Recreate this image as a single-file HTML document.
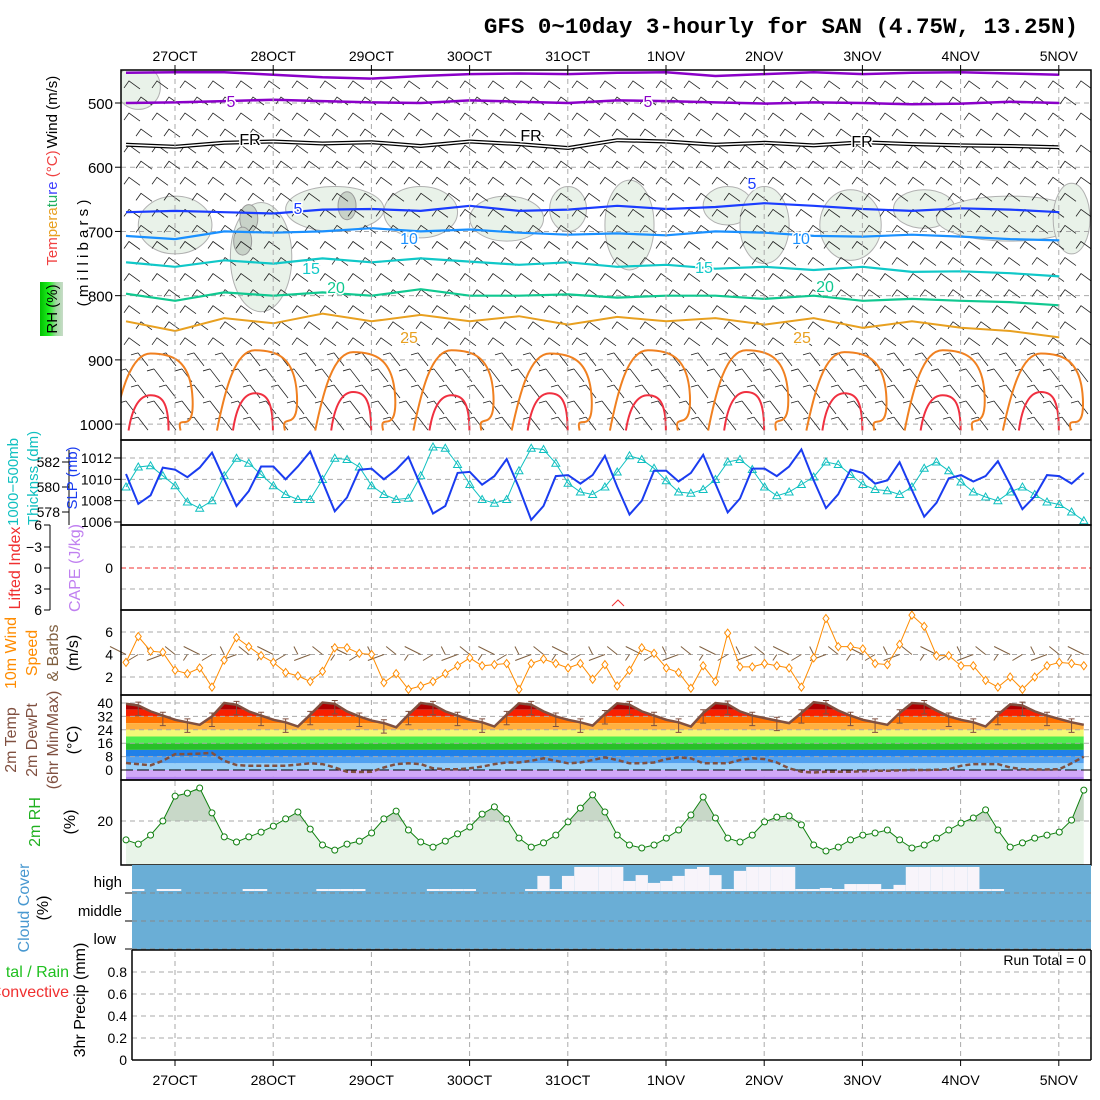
<!DOCTYPE html>
<html><head><meta charset="utf-8"><style>
body{margin:0;background:#fff}
svg{display:block}
text{font-family:"Liberation Sans",sans-serif}
</style></head><body>
<svg id="c" width="1100" height="1100" viewBox="0 0 1100 1100" xmlns="http://www.w3.org/2000/svg">
<rect width="1100" height="1100" fill="#fff"/>
<text x="1078" y="33" text-anchor="end" style="font-family:'Liberation Mono',monospace;font-size:22.5px;font-weight:bold">GFS 0~10day 3-hourly for SAN (4.75W, 13.25N)</text>
<g id="g"></g>
</svg>
<script>
// ---------- data ----------
const dayLabels=["27OCT","28OCT","29OCT","30OCT","31OCT","1NOV","2NOV","3NOV","4NOV","5NOV"];
const slp=[1010.5,1007.7,1008.5,1011.1,1010.9,1010.2,1011.1,1012.5,1010.0,1007.5,1008.9,1011.2,1011.2,1010.0,1011.2,1012.6,1009.8,1007.0,1008.3,1010.9,1011.0,1010.0,1010.9,1012.1,1009.4,1006.8,1007.5,1010.6,1010.7,1009.5,1010.3,1011.9,1009.2,1006.2,1007.5,1010.3,1010.4,1009.6,1010.4,1012.2,1009.3,1006.7,1008.0,1010.8,1010.8,1009.8,1010.6,1012.3,1009.6,1006.9,1008.2,1011.0,1011.0,1010.3,1011.2,1012.8,1009.9,1007.3,1008.6,1010.9,1010.6,1009.6,1009.9,1011.6,1009.0,1006.5,1007.8,1010.1,1010.4,1009.8,1010.3,1011.7,1009.5,1007.2,1008.4,1010.4,1010.3,1009.6,1010.6];
const thick=[580.0,581.6,581.7,580.9,580.1,578.8,578.3,578.9,580.9,582.3,581.9,581.0,580.1,579.4,579.0,579.0,580.6,582.3,582.2,581.6,580.1,579.4,579.0,579.1,580.9,583.2,583.1,581.8,580.2,579.0,578.7,579.0,581.3,583.1,583.0,581.9,580.3,579.6,579.4,580.0,581.2,582.5,582.2,581.5,580.5,579.6,579.5,579.8,580.6,582.0,582.2,581.4,580.0,579.3,579.6,580.2,580.8,582.0,581.8,581.0,580.2,579.8,579.7,579.4,580.0,581.5,582.0,581.3,580.4,579.6,579.2,578.9,579.6,580.0,579.4,578.8,578.6,578.0,577.3];
const wind10=[3.3,5.6,4.3,4.2,2.6,2.3,2.8,1.1,3.5,5.5,4.7,3.9,3.3,2.4,2.1,1.6,2.5,4.6,4.6,4.1,4.0,1.5,2.3,0.9,1.2,1.6,2.3,3.0,3.7,3.0,3.1,3.2,0.9,3.2,3.6,3.2,2.8,3.2,1.8,3.1,1.2,2.6,4.6,4.1,2.8,2.4,1.0,3.0,1.6,5.9,2.9,2.9,3.2,3.0,2.8,1.1,3.7,7.2,4.7,4.7,4.5,3.2,3.1,4.9,7.5,6.5,3.9,3.9,3.0,3.0,1.7,1.1,2.0,0.9,2.0,3.0,3.3,3.2,3.0];
const temp2m=[39.5,38.5,35,32.5,30,28.5,27,32,40,39,35,32.5,30,28.5,26,33,40.3,39.5,35,32,29.5,28,25.5,33,40,39,35,32.5,30,28.5,26,33,39.8,39,35,32,30,28.5,26.5,33.5,39.8,39,35,32.5,30,28.5,26,34,40,39.2,35,32.5,31,29.5,28,34,40.5,39.5,35.5,32.5,30,28.5,27,34,40,39.5,35.5,32,30,28.5,26,33,39.2,38.5,35,32.5,30.5,28.5,27];
const dewpt=[4.2,3.5,2.8,5.5,9.5,9.5,9.8,10.2,5.5,3.0,2.5,2.5,2.5,2.5,3.2,4.0,3.5,1.5,-1.0,-1.2,-1.0,1.5,3.5,4.0,3.5,1.0,0.5,0.5,1.0,2.0,3.5,4.5,4.5,5.5,7.0,5.5,4.0,4.5,6.0,7.5,6.0,4.0,4.0,4.5,6.5,7.5,7.0,4.0,4.0,4.0,6.0,7.0,6.5,4.5,1.0,-1.0,-1.5,-1.0,-1.0,-1.0,-0.8,-0.5,-0.5,-0.2,0.0,0.0,0.2,0.5,2.5,3.5,3.5,3.5,1.5,0.5,0.3,0.3,0.5,4.0,8.0];
const rh2m=[13.7,12.3,15.3,20,28.3,29.3,31,22.7,14.7,13,14.7,16.3,18.3,20.7,23,17.3,12,10.3,12.3,13.3,16,20.7,23.3,17,13,11.3,13.3,15.7,18,22.3,24.7,20.7,14.3,11.3,12.7,15.3,19.7,24.3,28.7,23,15.3,12,11,12,14.3,17,22,28,21,14.3,13,15.3,19.7,21.3,21.7,18.7,12,10,11.3,13.7,15.3,16,17,13.7,11,12,14.3,17,19.3,21,23.7,17,11.3,12.7,14.3,15.3,16.3,20.3,30.3];
const highCloud=[86,86,100,86,86,100,100,100,100,100,86,86,100,100,100,100,86,86,86,86,100,100,100,100,100,86,86,86,86,100,100,100,100,86,39,93,39,7,7,7,7,57,36,64,57,39,14,7,36,89,21,7,7,7,7,89,93,82,86,68,68,68,93,71,7,7,7,7,7,7,86,89,100,100,100,100,100,100,100];
const midCloud=new Array(79).fill(100);
const lowCloud=new Array(79).fill(100);
const precipTotal=new Array(79).fill(0);
// upper-air isotherm pressures (mb), sampled every 4 time steps (12 h)
const isoM5b=[453,452,452,456,460,462,458,455,454,455,453,452,458,455,452,455,453,452,454,456];
const isoM5=[500,499,497,495,497,499,500,496,498,500,496,497,499,501,499,500,502,501,498,500];
const isoFR=[565,568,562,560,563,561,567,560,564,570,558,560,565,562,566,561,564,566,567,569];
const iso5=[670,668,670,672,666,665,668,660,668,666,660,665,662,656,660,665,668,664,666,670];
const iso10=[707,712,700,702,700,695,700,697,702,705,703,706,700,702,707,708,705,708,712,714];
const iso15=[748,755,745,750,742,748,742,747,752,748,755,752,758,755,760,755,763,762,765,770];
const iso20=[797,808,795,800,795,800,790,800,800,798,803,800,800,805,800,808,805,808,810,815];
const iso25=[840,855,835,843,828,840,830,840,832,845,833,840,835,845,835,850,840,850,855,865];
// near-surface daily warm cores: time-step of core, top pressure of 30C & 35C contours
const coreStep=[2,10.5,18.5,26.5,34.5,42.5,50.5,58.5,66.5,74.5];
const core30Top=[890,885,888,885,890,885,885,888,885,890];
const core35Top=[955,952,950,955,952,955,950,952,955,950];
// RH shading blobs: time step, pressure, half-width(steps), half-height(mb)
const rhBlobStep=[1,4,11,17,24,31,36,41,49,52,59,65,72,77];
const rhBlobP=[475,690,740,665,670,680,665,690,660,690,690,665,680,680];
const rhBlobW=[1.8,3,2.5,4,3,3,1.5,2,2,2,2.5,2.5,6,1.5];
const rhBlobH=[35,45,85,35,40,35,35,70,30,60,55,30,35,55];
const barbLevels=[475,500,525,550,575,600,625,650,675,700,725,750,775,800,825,850,875,900,925,950,975,1000];
const barbDirs=[0,0,0,0,0,0,0,0,0,0,0,0,0,0,0,0,0,1,1,1,1,1];

// ---------- axes ----------
const NS='http://www.w3.org/2000/svg';
const G=document.getElementById('g');
const X0=126,DX=12.28,L=121,R=1091;
const xs=i=>X0+i*DX;
const dayX=k=>175+k*98.2;
const yP=p=>103+(p-500)*0.6422;
const ySlp=v=>522-(v-1006)*10.67;
const yTh=v=>512-(v-578)*12.5;
const yW=v=>677-(v-2)*11.25;
const yT=v=>770-v*1.675;
const yRH=v=>821-(v-20)*3;
const yPr=v=>1060-v*110;
function el(tag,attrs,parent){const e=document.createElementNS(NS,tag);for(const k in attrs)e.setAttribute(k,attrs[k]);(parent||G).appendChild(e);return e;}
function txt(s,x,y,o){const e=el('text',Object.assign({x:x,y:y},o||{}));e.textContent=s;return e;}
function pts(arr,fy,step){return arr.map((v,i)=>xs(i*(step||1)).toFixed(1)+','+fy(v).toFixed(1)).join(' ');}
function vtxt(s,x,y,col,size,name){const e=txt(s,x,y,{transform:'rotate(-90 '+x+' '+y+')','text-anchor':'middle',fill:col,'font-size':size||15});return e;}

const defs=el('defs',{});
function clip(id,x,y,w,h){const c=el('clipPath',{id:id},defs);el('rect',{x:x,y:y,width:w,height:h},c);}
clip('cTop',L,70,R-L,370);clip('cSlp',L,440,R-L,85);clip('cT',L,695,R-L,85);clip('cRH',L,780,R-L,85);

// ---------- top panel ----------
const topG=el('g',{'clip-path':'url(#cTop)'});


rhBlobStep.forEach((s,i)=>{const e=el('ellipse',{cx:xs(s),cy:yP(rhBlobP[i]),rx:rhBlobW[i]*DX,ry:rhBlobH[i]*0.6422,fill:'#e9f2e9',stroke:'#b0b0b0','stroke-width':1},topG);
});
[[10,680],[18,660],[9.5,715]].forEach(d=>{el('ellipse',{cx:xs(d[0]),cy:yP(d[1]),rx:9,ry:14,fill:'#c8d2c8',stroke:'#999'},topG);});
[500,600,700,800,900,1000].forEach(p=>el('line',{x1:L,x2:R,y1:yP(p),y2:yP(p),stroke:'#aaa','stroke-dasharray':'5,4'},topG));
dayLabels.forEach((d,k)=>el('line',{x1:dayX(k),x2:dayX(k),y1:70,y2:1060,stroke:'#aaa','stroke-dasharray':'5,4'}));
barbLevels.forEach((p,j)=>{for(let x=132+(j%2)*12;x<R;x+=28){const y=yP(p);let d;
 if(barbDirs[j]==0)d=`M${x-8},${y+1}L${x-3},${y-6}L${x+8},${y+2}`;else d=`M${x-6},${y-7}L${x+4},${y+6}M${x-6},${y-7}L${x-13},${y-5}`;
 const b=el('path',{d:d,fill:'none',stroke:'#222','stroke-width':0.8},topG);}});
function iso(arr,col,w,name){const e=el('polyline',{points:pts(arr,yP,4),fill:'none',stroke:col,'stroke-width':w},topG);return e;}
iso(isoM5b,'#8a00c8',2.5,'isotherm-minus5-upper');
iso(isoM5,'#8a00c8',2.5,'isotherm-minus5');
iso(isoFR,'#000',4,'freezing-level');iso(isoFR,'#fff',1.5,'freezing-level-inner');
iso(iso5,'#1a3cff',2.2,'isotherm-5');
iso(iso10,'#1a90ff',2.2,'isotherm-10');
iso(iso15,'#10c8c8',2.2,'isotherm-15');
iso(iso20,'#10c890',2.2,'isotherm-20');
iso(iso25,'#e8a020',2,'isotherm-25');
coreStep.forEach((s,i)=>{const c=xs(s),t=yP(core30Top[i]),b=yP(1010),t2=yP(core35Top[i]);
 const o=el('path',{d:`M${c-38},${b}C${c-30},${t+40} ${c-20},${t} ${c},${t}S${c+40},${t+5} ${c+42},${t+45}S${c+25},${b-20} ${c+30},${b}`,fill:'none',stroke:'#f08020','stroke-width':2},topG);
 
 const r=el('path',{d:`M${c-22},${b}C${c-18},${t2+10} ${c-10},${t2} ${c},${t2}S${c+18},${t2+5} ${c+18},${b}`,fill:'none',stroke:'#f03040','stroke-width':2},topG);
 });
function lab(s,x,y,c){const t=txt(s,x,y,{fill:c,'font-size':16,'text-anchor':'middle','stroke':'#fff','stroke-width':3,'paint-order':'stroke'});}
lab('5',231,107,'#8a00c8');lab('5',648,107,'#8a00c8');
lab('FR',250,145,'#000');lab('FR',531,141,'#000');lab('FR',862,147,'#000');
lab('5',298,214,'#1a3cff');lab('5',752,189,'#1a3cff');
lab('10',409,244,'#1a90ff');lab('10',801,244,'#1a90ff');
lab('15',311,274,'#10c8c8');lab('15',704,273,'#10c8c8');
lab('20',336,293,'#10c890');lab('20',825,292,'#10c890');
lab('25',409,343,'#e8a020');lab('25',802,343,'#e8a020');
el('rect',{x:L,y:70,width:R-L,height:370,fill:'none',stroke:'#000','stroke-width':1.5});
[500,600,700,800,900,1000].forEach(p=>{el('line',{x1:115,x2:L,y1:yP(p),y2:yP(p),stroke:'#000'});const t=txt(p,113,yP(p)+6,{'text-anchor':'end','font-size':15});});
dayLabels.forEach((d,k)=>{el('line',{x1:dayX(k),x2:dayX(k),y1:65,y2:75,stroke:'#000'});const t=txt(d,dayX(k),61,{'text-anchor':'middle','font-size':14});
 const b=txt(d,dayX(k),1085,{'text-anchor':'middle','font-size':14});});
vtxt('( m i l l i b a r s )',88,253,'#000',15,'pressure-axis-title');
vtxt('Wind (m/s)',57,112,'#000',15,'wind-axis-title');
(function(){const t=el('text',{x:57,y:208,transform:'rotate(-90 57 208)','text-anchor':'middle','font-size':15});
[['Tem','#f04040'],['pera','#e8a020'],['tu','#20b060'],['re ','#4040ff'],['(°C)','#f04040']].forEach(a=>{const s=el('tspan',{fill:a[1]},t);s.textContent=a[0];});})();
const rg=el('linearGradient',{id:'rhg',x1:0,x2:1,y1:0,y2:0},defs);[['0','#00c000'],['0.4','#20f020'],['0.7','#a0d8a0'],['1','#c8dcc8']].forEach(s=>el('stop',{offset:s[0],'stop-color':s[1]},rg));
el('rect',{x:40,y:282,width:23,height:54,fill:'url(#rhg)'});
vtxt('RH (%)',57,309,'#000',15,'rh-axis-title');

// ---------- SLP / thickness ----------
const sp=el('g',{'clip-path':'url(#cSlp)'});
[1008,1010,1012].forEach(v=>el('line',{x1:L,x2:R,y1:ySlp(v),y2:ySlp(v),stroke:'#aaa','stroke-dasharray':'5,4'},sp));
const th=el('polyline',{points:pts(thick,yTh),fill:'none',stroke:'#10c0c0','stroke-width':1},sp);

thick.forEach((v,i)=>{const x=xs(i),y=yTh(v);const m=el('path',{d:`M${x},${y-4}L${x+4},${y+3}L${x-4},${y+3}Z`,fill:'none',stroke:'#10c0c0'},sp);});
const sl=el('polyline',{points:pts(slp,ySlp),fill:'none',stroke:'#1a3cf0','stroke-width':2},sp);

el('rect',{x:L,y:440,width:R-L,height:85,fill:'none',stroke:'#000','stroke-width':1.5});
el('line',{x1:69,x2:69,y1:450,y2:525,stroke:'#000'});
[578,580,582].forEach(v=>{el('line',{x1:62,x2:69,y1:yTh(v),y2:yTh(v),stroke:'#000'});txt(v,60,yTh(v)+5,{'text-anchor':'end','font-size':14});});
[1006,1008,1010,1012].forEach(v=>{el('line',{x1:114,x2:L,y1:ySlp(v),y2:ySlp(v),stroke:'#000'});txt(v,112,ySlp(v)+5,{'text-anchor':'end','font-size':14});});
vtxt('1000−500mb',18,482,'#10c0c0',15,'thickness-title');
vtxt('Thicknss (dm)',38,478,'#10c0c0',15,'thickness-unit');
vtxt('SLP (mb)',77,478,'#1a3cf0',15,'slp-title');

// ---------- CAPE / LI ----------
[547,589].forEach(y=>el('line',{x1:L,x2:R,y1:y,y2:y,stroke:'#aaa','stroke-dasharray':'5,4'}));
el('line',{x1:L,x2:R,y1:568,y2:568,stroke:'#f03030','stroke-dasharray':'5,3'});
el('rect',{x:L,y:525,width:R-L,height:85,fill:'none',stroke:'#000','stroke-width':1.5});
el('line',{x1:50,x2:50,y1:525,y2:610,stroke:'#000'});
[['6',525],['−3',547],['0',568],['3',589],['6',610]].forEach(a=>{el('line',{x1:44,x2:50,y1:a[1],y2:a[1],stroke:'#000'});txt(a[0],42,a[1]+5,{'text-anchor':'end','font-size':14});});
txt('0',113,573,{'text-anchor':'end','font-size':14});
el('path',{d:'M612,606L618,600L624,606',fill:'none',stroke:'#f03030'});
vtxt('Lifted Index',20,568,'#f03030',16,'lifted-index-title');
vtxt('CAPE (J/kg)',80,568,'#c080f0',16,'cape-title');

// ---------- 10m wind ----------
[2,4,6].forEach(v=>{el('line',{x1:L,x2:R,y1:yW(v),y2:yW(v),stroke:'#aaa','stroke-dasharray':'5,4'});txt(v,113,yW(v)+5,{'text-anchor':'end','font-size':14});});
wind10.forEach((v,i)=>{const x=xs(i),y=yW(4);const b=el('line',{x1:x,y1:y,x2:x+(i%3-1)*6-10,y2:y-8+(i%2)*14,stroke:'#806040','stroke-width':1});});
const wl=el('polyline',{points:pts(wind10,yW),fill:'none',stroke:'#ff8c00','stroke-width':1});

wind10.forEach((v,i)=>{const x=xs(i),y=yW(v);const m=el('path',{d:`M${x},${y-4}L${x+3},${y}L${x},${y+4}L${x-3},${y}Z`,fill:'#fff',stroke:'#ff8c00'});});
el('rect',{x:L,y:610,width:R-L,height:85,fill:'none',stroke:'#000','stroke-width':1.5});
vtxt('10m Wind',16,653,'#ff8c00',16,'wind10-title');
vtxt('Speed',37,653,'#ff8c00',16,'wind10-speed');
vtxt('& Barbs',58,653,'#806040',16,'wind10-barbs');
vtxt('(m/s)',78,653,'#000',16,'wind10-unit');

// ---------- temp ----------
const tg=el('g',{'clip-path':'url(#cT)'});
const tc=el('clipPath',{id:'tUnder'},defs);
el('polygon',{points:xs(0)+',780 '+pts(temp2m,yT)+' '+xs(temp2m.length-1)+',780'},tc);
const bands=[[36,40,'#b00000'],[32,36,'#f82000'],[28,32,'#ff7000'],[24,28,'#ffb040'],[20,24,'#f4f878'],[16,20,'#50ec50'],[12,16,'#28c028'],[8,12,'#2080e8'],[4,8,'#50a0f0'],[0,4,'#98d0f8'],[-4,0,'#d0a8f8'],[-8,-4,'#b080f0']];
const bg=el('g',{'clip-path':'url(#tUnder)'},tg);
bands.forEach(b=>{const r=el('rect',{x:xs(0),y:yT(b[1]),width:xs(temp2m.length-1)-xs(0),height:yT(b[0])-yT(b[1]),fill:b[2]},bg);});
[8,16,24,32,40].forEach(v=>el('line',{x1:L,x2:R,y1:yT(v),y2:yT(v),stroke:'#aaa','stroke-dasharray':'5,4'},tg));
el('line',{x1:L,x2:R,y1:yT(0),y2:yT(0),stroke:'#000','stroke-dasharray':'12,4'},tg);
const tl=el('polyline',{points:pts(temp2m,yT),fill:'none',stroke:'#805040','stroke-width':2.5},tg);

temp2m.forEach((v,i)=>{if(i%2==1){const x=xs(i);const lo=yT(v-6),hi=yT(v+2);el('path',{d:`M${x},${hi}V${lo}M${x-3},${hi}H${x+3}M${x-3},${lo}H${x+3}`,stroke:'#805040',fill:'none'},tg);}});
const dl=el('polyline',{points:pts(dewpt,yT),fill:'none',stroke:'#805040','stroke-width':2.5,'stroke-dasharray':'5,3'},tg);

el('rect',{x:L,y:695,width:R-L,height:85,fill:'none',stroke:'#000','stroke-width':1.5});
[0,8,16,24,32,40].forEach(v=>txt(v,113,yT(v)+5,{'text-anchor':'end','font-size':14}));
vtxt('2m Temp',16,740,'#805040',16,'temp-title');
vtxt('2m DewPt',37,740,'#805040',16,'dewpt-title');
vtxt('(6hr Min/Max)',58,740,'#805040',16,'minmax-title');
vtxt('(°C)',78,740,'#000',16,'temp-unit');

// ---------- RH ----------
const rg2=el('g',{'clip-path':'url(#cRH)'});
const rc=el('clipPath',{id:'rhUnder'},defs);
el('polygon',{points:xs(0)+',865 '+pts(rh2m,yRH)+' '+xs(rh2m.length-1)+',865'},rc);
const rb=el('g',{'clip-path':'url(#rhUnder)'},rg2);
el('rect',{x:xs(0),y:780,width:xs(78)-xs(0),height:85,fill:'#e8f4e8'},rb);
el('rect',{x:xs(0),y:780,width:xs(78)-xs(0),height:yRH(20)-780,fill:'#c8d8c8'},rb);
el('rect',{x:xs(0),y:780,width:xs(78)-xs(0),height:yRH(30)-780,fill:'#98c898'},rb);
el('line',{x1:L,x2:R,y1:yRH(20),y2:yRH(20),stroke:'#aaa','stroke-dasharray':'5,4'},rg2);
const rl=el('polyline',{points:pts(rh2m,yRH),fill:'none',stroke:'#108010','stroke-width':1},rg2);

rh2m.forEach((v,i)=>{const m=el('circle',{cx:xs(i),cy:yRH(v),r:3,fill:'#fff',stroke:'#108010'},rg2);});
el('rect',{x:L,y:780,width:R-L,height:85,fill:'none',stroke:'#000','stroke-width':1.5});
txt('20',113,826,{'text-anchor':'end','font-size':14});
vtxt('2m RH',40,822,'#20b020',16,'rh2m-title');
vtxt('(%)',75,822,'#000',16,'rh2m-unit');

// ---------- cloud ----------
const CL=132;
el('rect',{x:CL,y:865,width:R-CL,height:85,fill:'#6aaed6'});
highCloud.forEach((v,i)=>{if(v<100){const x0=Math.max(CL,xs(i)-DX/2);const y=865+v*0.28;const r=el('rect',{x:x0,y:Math.min(y,889),width:xs(i)+DX/2-x0,height:891-Math.min(y,889),fill:'#f8f4fa'});}});
[893,921,949].forEach(y=>el('line',{x1:CL,x2:R,y1:y,y2:y,stroke:'#888','stroke-dasharray':'5,4'}));
[893,921,949].forEach(y=>el('line',{x1:125,x2:CL,y1:y,y2:y,stroke:'#000'}));
txt('high',122,887,{'text-anchor':'end','font-size':15});txt('middle',122,916,{'text-anchor':'end','font-size':15});txt('low',116,944,{'text-anchor':'end','font-size':15});
vtxt('Cloud Cover',29,908,'#4898d0',16,'cloud-title');
vtxt('(%)',48,908,'#000',16,'cloud-unit');

// ---------- precip ----------
[0.2,0.4,0.6,0.8].forEach(v=>el('line',{x1:CL,x2:R,y1:yPr(v),y2:yPr(v),stroke:'#aaa','stroke-dasharray':'5,4'}));
el('line',{x1:CL,x2:CL,y1:950,y2:1060,stroke:'#000','stroke-width':1.5});
el('line',{x1:CL,x2:R,y1:1060,y2:1060,stroke:'#000','stroke-width':1.5});
el('line',{x1:R,x2:R,y1:950,y2:1060,stroke:'#000','stroke-width':1.5});
el('line',{x1:CL,x2:R,y1:950,y2:950,stroke:'#000','stroke-width':1.5});
[0,0.2,0.4,0.6,0.8].forEach(v=>txt(v,127,yPr(v)+5,{'text-anchor':'end','font-size':14}));
dayLabels.forEach((d,k)=>el('line',{x1:dayX(k),x2:dayX(k),y1:1060,y2:1066,stroke:'#000'}));
txt('Run Total = 0',1086,965,{'text-anchor':'end','font-size':14});
txt('tal / Rain',69,977,{'text-anchor':'end','fill':'#20c020','font-size':16});
txt('Convective',69,997,{'text-anchor':'end','fill':'#f03030','font-size':16});
vtxt('3hr Precip (mm)',85,1000,'#000',16,'precip-title');
</script>
</body></html>
